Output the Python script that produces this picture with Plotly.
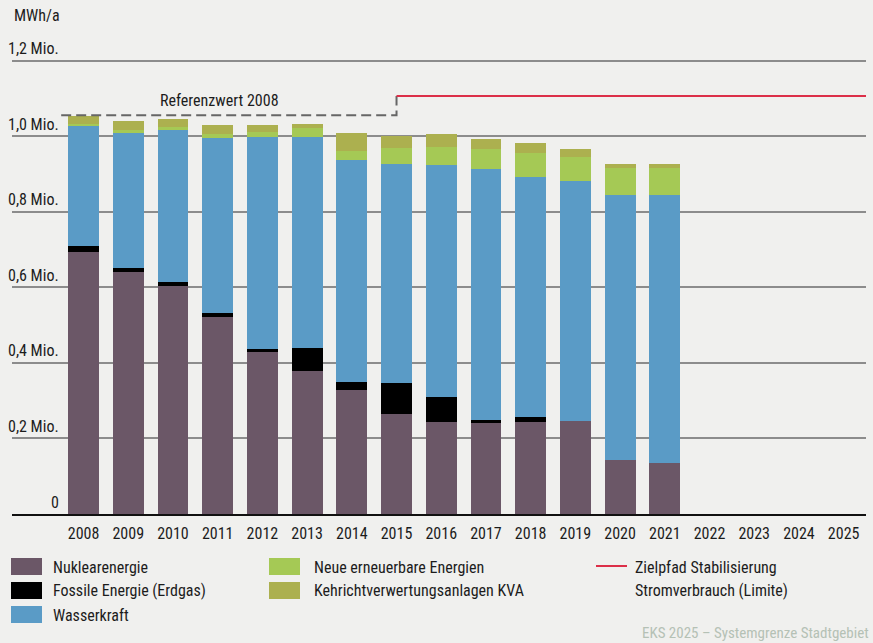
import plotly.graph_objects as go

# ---------------- data ----------------
years = [2008, 2009, 2010, 2011, 2012, 2013, 2014, 2015, 2016, 2017, 2018, 2019, 2020, 2021]
axis_years = list(range(2008, 2026))
axis_year_labels = [str(y) for y in axis_years]

nuklear = [0.694, 0.641, 0.604, 0.522, 0.429, 0.379, 0.328, 0.265, 0.244, 0.241, 0.244, 0.246, 0.143, 0.135]
fossil = [0.016, 0.011, 0.011, 0.010, 0.008, 0.061, 0.022, 0.082, 0.066, 0.008, 0.013, 0.000, 0.000, 0.000]
wasser = [0.318, 0.357, 0.402, 0.464, 0.562, 0.559, 0.588, 0.580, 0.614, 0.665, 0.636, 0.636, 0.702, 0.710]
neue = [0.005, 0.008, 0.008, 0.011, 0.013, 0.024, 0.024, 0.043, 0.048, 0.053, 0.063, 0.064, 0.072, 0.072]
kva = [0.021, 0.024, 0.021, 0.023, 0.018, 0.010, 0.047, 0.031, 0.035, 0.026, 0.027, 0.021, 0.010, 0.010]

referenzwert_2008 = 1.056
zielpfad = 1.107
ref_x = [2007.5, 2015, 2015]
ref_y = [referenzwert_2008, referenzwert_2008, zielpfad]
ziel_x = [2015, 2025.5]
ziel_y = [zielpfad, zielpfad]

ytick_vals = [0, 0.2, 0.4, 0.6, 0.8, 1.0, 1.2]
ytick_text = ["0", "0,2 Mio.", "0,4 Mio.", "0,6 Mio.", "0,8 Mio.", "1,0 Mio.", "1,2 Mio."]

series_names = ["Nuklearenergie", "Fossile Energie (Erdgas)", "Wasserkraft",
                "Neue erneuerbare Energien", "Kehrichtverwertungsanlagen KVA"]
series_values = [nuklear, fossil, wasser, neue, kva]
colors = ["#6b5767", "#000000", "#5a9bc6", "#a5c955", "#acb04f"]
red = "#dc2f48"
ziel_name_lines = ["Zielpfad Stabilisierung", "Stromverbrauch (Limite)"]

# ---------------- layout constants ----------------
W, H = 873, 643
L, R, T, B = 12, 7, 59, 129
FONT = "Noto Sans Condensed, Roboto Condensed, Liberation Sans Narrow, Roboto, sans-serif"
FS = 16
TXT = "#1c1c1c"
BG = "#f0f0ee"

plot_w = W - L - R
plot_h = H - T - B


def px_x(px):
    return (px - L) / plot_w


def px_y(py):
    return (H - B - py) / plot_h


fig = go.Figure()
for name, vals, col in zip(series_names, series_values, colors):
    fig.add_trace(go.Bar(x=years, y=vals, name=name, marker=dict(color=col, line=dict(width=0)),
                         width=0.69, showlegend=False))

fig.add_trace(go.Scatter(x=ref_x, y=ref_y, mode="lines", showlegend=False,
                         line=dict(color="#666666", width=2, dash="10px,5px")))
fig.add_trace(go.Scatter(x=ziel_x, y=ziel_y, mode="lines", showlegend=False,
                         line=dict(color=red, width=2)))

annotations = []
for v, t in zip(ytick_vals, ytick_text):
    annotations.append(dict(x=px_x(61), xref="paper", y=v, yref="y", text=t, showarrow=False,
                            xanchor="right", yanchor="middle", yshift=12,
                            font=dict(family=FONT, size=FS, color=TXT)))
annotations.append(dict(x=px_x(12), xref="paper", y=px_y(16), yref="paper", text="MWh/a",
                        showarrow=False, xanchor="left", yanchor="middle",
                        font=dict(family=FONT, size=FS, color=TXT)))
annotations.append(dict(x=2011.05, y=1.094, text="Referenzwert 2008", showarrow=False,
                        xanchor="center", yanchor="middle",
                        font=dict(family=FONT, size=FS, color=TXT)))

shapes = []
leg_items = [
    (11, 558, 51, 567, 0),
    (11, 582, 51, 590, 1),
    (11, 606, 51, 615, 2),
    (269, 558, 312, 567, 3),
    (269, 582, 312, 590, 4),
]
for sx, sy, tx, ty, i in leg_items:
    shapes.append(dict(type="rect", xref="paper", yref="paper",
                       x0=px_x(sx), x1=px_x(sx + 31), y0=px_y(sy), y1=px_y(sy + 17),
                       fillcolor=colors[i], line=dict(width=0), layer="above"))
    annotations.append(dict(x=px_x(tx), xref="paper", y=px_y(ty), yref="paper",
                            text=series_names[i], showarrow=False, xanchor="left", yanchor="middle",
                            font=dict(family=FONT, size=FS, color=TXT)))
shapes.append(dict(type="line", xref="paper", yref="paper", x0=px_x(596), x1=px_x(627),
                   y0=px_y(566), y1=px_y(566), line=dict(color=red, width=2)))
annotations.append(dict(x=px_x(633), xref="paper", y=px_y(567), yref="paper", text=ziel_name_lines[0],
                        showarrow=False, xanchor="left", yanchor="middle",
                        font=dict(family=FONT, size=FS, color=TXT)))
annotations.append(dict(x=px_x(633), xref="paper", y=px_y(590), yref="paper", text=ziel_name_lines[1],
                        showarrow=False, xanchor="left", yanchor="middle",
                        font=dict(family=FONT, size=FS, color=TXT)))
annotations.append(dict(x=px_x(871), xref="paper", y=px_y(633), yref="paper",
                        text="EKS 2025 – Systemgrenze Stadtgebiet",
                        showarrow=False, xanchor="right", yanchor="middle",
                        font=dict(family=FONT, size=15, color="#b5c1b5")))

fig.update_layout(
    width=W, height=H,
    margin=dict(l=L, r=R, t=T, b=B, pad=0),
    paper_bgcolor=BG, plot_bgcolor=BG,
    barmode="stack",
    showlegend=False,
    font=dict(family=FONT, size=FS, color=TXT),
    annotations=annotations,
    shapes=shapes,
    xaxis=dict(range=[2006.4, 2025.5], tickvals=axis_years, ticktext=axis_year_labels,
               showgrid=False, zeroline=False, showline=True, linecolor="#111111", linewidth=1.5,
               ticks="", ticklabelstandoff=4, tickfont=dict(family=FONT, size=FS, color=TXT),
               fixedrange=True),
    yaxis=dict(range=[0, 1.205], tickvals=ytick_vals[1:], showticklabels=False,
               showgrid=True, gridcolor="#8c8c8c", gridwidth=1.5, zeroline=False,
               showline=False, ticks="", fixedrange=True),
)

fig.write_html("out.html", config={"displayModeBar": False},
               post_script="document.body.style.margin='0';document.body.style.overflow='hidden';")
